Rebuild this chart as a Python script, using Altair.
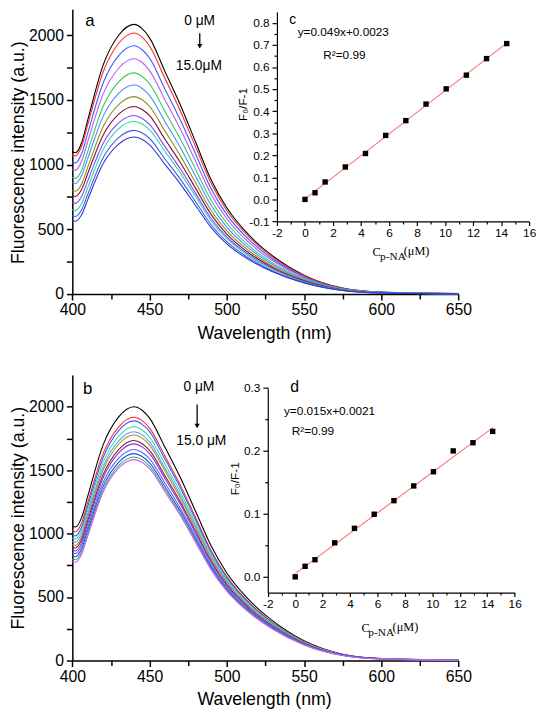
import altair as alt
import pandas as pd

# ---------------- data ----------------
wavelengths = [400, 402, 406, 410, 420, 430, 440, 445, 450, 460, 470, 480, 490, 500, 515, 530, 550, 575, 600, 650]

spectra_a = [
    [1100, 1092, 1169, 1346, 1771, 2000, 2084, 2053, 1980, 1719, 1459, 1169, 879, 667, 448, 292, 146, 46, 15, 4],
    [1076, 1068, 1142, 1311, 1718, 1938, 2018, 1988, 1917, 1665, 1413, 1132, 852, 646, 434, 283, 141, 44, 14, 4],
    [1021, 1014, 1084, 1245, 1633, 1843, 1919, 1890, 1823, 1583, 1343, 1077, 810, 614, 413, 269, 134, 42, 13, 4],
    [965, 958, 1025, 1179, 1547, 1745, 1818, 1791, 1727, 1500, 1273, 1020, 767, 582, 391, 255, 127, 40, 13, 4],
    [901, 894, 957, 1103, 1452, 1640, 1709, 1683, 1624, 1410, 1196, 959, 721, 547, 367, 239, 120, 38, 12, 3],
    [861, 855, 914, 1049, 1375, 1551, 1615, 1591, 1534, 1332, 1131, 906, 682, 517, 347, 226, 113, 36, 11, 3],
    [800, 794, 850, 981, 1295, 1464, 1526, 1503, 1450, 1259, 1068, 856, 644, 488, 328, 214, 107, 34, 11, 3],
    [760, 754, 808, 932, 1230, 1391, 1450, 1428, 1378, 1196, 1015, 813, 612, 464, 312, 203, 102, 32, 10, 3],
    [707, 701, 754, 875, 1166, 1323, 1380, 1359, 1311, 1139, 966, 774, 582, 442, 297, 193, 97, 30, 10, 3],
    [651, 645, 699, 822, 1118, 1278, 1336, 1316, 1269, 1102, 935, 750, 564, 428, 287, 187, 94, 29, 9, 3],
    [605, 599, 651, 770, 1055, 1209, 1265, 1246, 1202, 1044, 886, 710, 534, 405, 272, 177, 89, 28, 9, 3],
    [568, 563, 613, 730, 1009, 1159, 1214, 1196, 1153, 1002, 850, 681, 512, 388, 261, 170, 85, 27, 8, 2],
]
spectra_b = [
    [1060, 1052, 1126, 1295, 1701, 1920, 2000, 1974, 1910, 1680, 1440, 1170, 900, 690, 470, 310, 156, 50, 16, 4],
    [1022, 1015, 1084, 1246, 1632, 1841, 1917, 1892, 1831, 1610, 1380, 1121, 863, 661, 450, 297, 150, 48, 15, 4],
    [990, 982, 1052, 1214, 1602, 1812, 1888, 1863, 1803, 1586, 1359, 1104, 850, 651, 444, 293, 147, 47, 15, 4],
    [965, 958, 1027, 1184, 1563, 1767, 1842, 1818, 1759, 1547, 1326, 1078, 829, 635, 433, 286, 144, 46, 15, 4],
    [940, 933, 1000, 1155, 1528, 1730, 1803, 1780, 1722, 1515, 1298, 1055, 811, 622, 424, 279, 141, 45, 14, 4],
    [915, 908, 976, 1131, 1503, 1704, 1777, 1754, 1697, 1493, 1279, 1040, 800, 613, 418, 275, 139, 44, 14, 4],
    [895, 887, 953, 1104, 1466, 1662, 1733, 1710, 1655, 1456, 1248, 1014, 780, 598, 407, 269, 135, 43, 14, 3],
    [870, 864, 929, 1080, 1441, 1636, 1707, 1685, 1630, 1434, 1229, 999, 768, 589, 401, 265, 133, 43, 14, 3],
    [850, 843, 907, 1053, 1404, 1594, 1663, 1641, 1588, 1397, 1197, 973, 748, 574, 391, 258, 130, 42, 13, 3],
    [825, 818, 881, 1026, 1374, 1562, 1630, 1609, 1557, 1369, 1174, 954, 734, 562, 383, 253, 127, 41, 13, 3],
    [800, 794, 857, 1001, 1348, 1536, 1604, 1583, 1532, 1347, 1155, 938, 722, 553, 377, 249, 125, 40, 13, 3],
    [780, 774, 837, 981, 1328, 1515, 1583, 1562, 1512, 1330, 1140, 926, 712, 546, 372, 245, 123, 40, 13, 3],
]
colors_a = ["#000000", "#ff2a2a", "#3a5cff", "#bb55ff", "#33cc55", "#4d8dff",
            "#8f8f22", "#7a1030", "#8844ff", "#33d6a8", "#4455ee", "#2a3acc"]
colors_b = ["#000000", "#ff2a2a", "#3a5cff", "#3cd6a8", "#5a9cff", "#9a9a22",
            "#8a1a3a", "#8a33dd", "#5566ff", "#3344dd", "#22bb66", "#dd55ff"]

conc = [0, 0.72, 1.44, 2.88, 4.32, 5.76, 7.2, 8.64, 10.08, 11.52, 12.96, 14.4]
ratio_c = [0, 0.030, 0.079, 0.147, 0.208, 0.290, 0.357, 0.432, 0.501, 0.563, 0.638, 0.706]
ratio_d = [0, 0.0167, 0.0272, 0.054, 0.077, 0.0994, 0.121, 0.1444, 0.1669, 0.200, 0.213, 0.231]
fit_c_conc = [0, 14.4]
fit_c_ratio = [0.0023, 0.7079]
fit_d_conc = [0, 14.42]
fit_d_ratio = [0.005, 0.237]

# ---------------- layout ----------------
W, H = 538, 714
SC = {
    "a_x": ([400, 650], [65.3, 457.3]),
    "a_y": ([0, 2200], [285, -4]),
    "b_x": ([400, 650], [65.3, 457.3]),
    "b_y": ([0, 2250], [657, 367.1]),
    "c_x": ([-2, 16], [273, 529]),
    "c_y": ([-0.1, 0.85], [211.3, -1.5]),
    "d_x": ([-2, 16], [263.7, 514.3]),
    "d_y": ([-0.025, 0.3], [588, 380.3]),
}
SANS = "Liberation Sans"
SERIF = "Liberation Serif"
AX = dict(grid=False, domainColor="black", tickColor="black", labelColor="black",
          titleColor="black", labelFont=SANS, titleFont=SANS, titleFontWeight="normal")
MINUS = "replace(datum.label, '\u2212', '-')"


def sc(key):
    dom, rng = SC[key]
    return alt.Scale(domain=dom, range=rng, nice=False, zero=False)


def X(field, key, axis=None):
    return alt.X(f"{field}:Q", scale=sc(key), axis=axis)


def Y(field, key, axis=None):
    return alt.Y(f"{field}:Q", scale=sc(key), axis=axis)


def main_axes(y_off, ytitle_y):
    xa = alt.Axis(orient="bottom", offset=y_off - H, values=[400, 450, 500, 550, 600, 650],
                  tickSize=6, tickWidth=1.5, domainWidth=1.5, labelFontSize=16, labelPadding=2,
                  labelFlush=False, labelOverlap=False, format="d",
                  title="Wavelength (nm)", titleFontSize=18, titleX=260, titleY=31,
                  titleBaseline="top", titleAlign="center", **AX)
    ya = alt.Axis(orient="left", offset=-65.3, values=[0, 500, 1000, 1500, 2000],
                  tickSize=6, tickWidth=1.5, domainWidth=1.5, labelFontSize=16, labelPadding=3,
                  format="d", title="Fluorescence intensity (a.u.)", titleFontSize=18,
                  titleX=-46, titleY=ytitle_y, titleAngle=270, titleBaseline="bottom",
                  titleAlign="center", **AX)
    xm = alt.Axis(orient="bottom", offset=y_off - H, values=[425, 475, 525, 575, 625],
                  labels=False, domain=False, tickSize=5, tickWidth=1.5, title=None, **AX)
    ym = alt.Axis(orient="left", offset=-65.3, values=[250, 750, 1250, 1750],
                  labels=False, domain=False, tickSize=6, tickWidth=1.5, title=None, **AX)
    return xa, ya, xm, ym


def inset_axes(y_axis_px, x_off, yvals, ymin, title_x, title_y):
    xa = alt.Axis(orient="bottom", offset=y_axis_px - H, values=list(range(-2, 17, 2)),
                  tickSize=4, tickWidth=1.2, domainWidth=1.2, labelFontSize=12, labelPadding=2,
                  labelFlush=False, labelOverlap=False, format="d", labelExpr=MINUS,
                  title=None, **AX)
    ya = alt.Axis(orient="left", offset=-x_off, values=yvals, tickSize=5, tickWidth=1.2,
                  domainWidth=1.2, labelFontSize=12, labelPadding=3, format=".1f",
                  labelExpr=MINUS, labelOverlap=False, title="F\u2080/F-1", titleFontSize=12,
                  titleX=title_x, titleY=title_y, titleAngle=270, titleBaseline="bottom",
                  titleAlign="center", **AX)
    xm = alt.Axis(orient="bottom", offset=y_axis_px - H, values=list(range(-1, 16, 2)),
                  labels=False, domain=False, tickSize=2.5, tickWidth=1.2, title=None, **AX)
    ym = alt.Axis(orient="left", offset=-x_off, values=ymin, labels=False, domain=False,
                  tickSize=3, tickWidth=1.2, title=None, **AX)
    return xa, ya, xm, ym


def spectra_df(spectra):
    rows = []
    for i, s in enumerate(spectra):
        for w, v in zip(wavelengths, s):
            rows.append({"wl": w, "val": v, "curve": f"s{i:02d}"})
    return pd.DataFrame(rows)


def spectra_layer(spectra, colors, p, xa, ya):
    df = spectra_df(spectra)
    ids = [f"s{i:02d}" for i in range(len(spectra))]
    return alt.Chart(df).mark_line(strokeWidth=1.1, interpolate="monotone").encode(
        x=X("wl", p + "_x", xa), y=Y("val", p + "_y", ya),
        color=alt.Color("curve:N", scale=alt.Scale(domain=ids, range=colors), legend=None),
    )


def text_layer(texts, xs, ys, p, size, font=SANS, align="center", baseline="middle",
               xa=None, ya=None):
    df = pd.DataFrame({"t": texts, "x": xs, "y": ys})
    return alt.Chart(df).mark_text(align=align, baseline=baseline, fontSize=size, font=font,
                                   color="black").encode(
        x=X("x", p + "_x", xa), y=Y("y", p + "_y", ya), text="t:N")


def arrow_layers(x, y_from, y_head, p):
    df = pd.DataFrame({"x": [x], "y": [y_from], "y2": [y_head]})
    shaft = alt.Chart(df).mark_rule(color="black", strokeWidth=1.3).encode(
        x=X("x", p + "_x"), y=Y("y", p + "_y"), y2="y2:Q")
    head = alt.Chart(df).mark_point(shape="triangle-down", filled=True, size=28, color="black",
                                    opacity=1).encode(x=X("x", p + "_x"), y=Y("y2", p + "_y"))
    return [shaft, head]


def inset_layers(p, ratios, fit_x, fit_y, axes):
    xa, ya, xm, ym = axes
    pts = pd.DataFrame({"c": conc, "r": ratios})
    fit = pd.DataFrame({"c": fit_x, "r": fit_y})
    line = alt.Chart(fit).mark_line(color="#ff6f6f", strokeWidth=1.1).encode(
        x=X("c", p + "_x", xm), y=Y("r", p + "_y", ym))
    points = alt.Chart(pts).mark_square(size=30, color="black", opacity=1).encode(
        x=X("c", p + "_x", xa), y=Y("r", p + "_y", ya))
    return [line, points]


layers = []

# ---- panel a ----
axa = main_axes(285, 141)
layers.append(spectra_layer(spectra_a, colors_a, "a", axa[0], axa[1]))
layers.append(text_layer(["a"], [411.3], [2108], "a", 17, xa=axa[2], ya=axa[3]))
layers.append(text_layer(["0 \u03bcM", "15.0\u03bcM"], [482.4, 481.9], [2108, 1761], "a", 14))
layers += arrow_layers(482.5, 2015, 1915, "a")

# ---- inset c ----
axc = inset_axes(211.3, 273, [-0.1, 0.0, 0.1, 0.2, 0.3, 0.4, 0.5, 0.6, 0.7, 0.8],
                 [-0.05, 0.05, 0.15, 0.25, 0.35, 0.45, 0.55, 0.65, 0.75], -28, 92)
layers += inset_layers("c", ratio_c, fit_c_conc, fit_c_ratio, axc)
layers.append(text_layer(["c"], [-0.875], [0.8125], "c", 14))
layers.append(text_layer(["y=0.049x+0.0023", "R\u00b2=0.99"], [-0.523, 1.305], [0.759, 0.656],
                         "c", 12, align="left"))
layers.append(text_layer(["C", "(\u03bcM)"], [4.82, 7.05], [-0.237, -0.232], "c", 12.5,
                         font=SERIF, align="left"))
layers.append(text_layer(["p-NA"], [5.36], [-0.263], "c", 11.5, font=SERIF, align="left"))

# ---- panel b ----
axb = main_axes(657, 512)
layers.append(spectra_layer(spectra_b, colors_b, "b", axb[0], axb[1]))
layers.append(text_layer(["b"], [410], [2142], "b", 17, xa=axb[2], ya=axb[3]))
layers.append(text_layer(["0 \u03bcM", "15.0 \u03bcM"], [481.9, 483.5], [2158, 1727], "b", 14))
layers += arrow_layers(480.8, 2018, 1847, "b")

# ---- inset d ----
axd = inset_axes(588, 263.7, [0.0, 0.1, 0.2, 0.3], [0.05, 0.15, 0.25], -27, 472)
layers += inset_layers("d", ratio_d, fit_d_conc, fit_d_ratio, axd)
layers.append(text_layer(["d"], [-0.04], [0.302], "d", 16))
layers.append(text_layer(["y=0.015x+0.0021", "R\u00b2=0.99"], [-0.826, -0.25], [0.263, 0.231],
                         "d", 12, align="left"))
layers.append(text_layer(["C", "(\u03bcM)"], [4.83, 7.1], [-0.081, -0.080], "d", 12.5,
                         font=SERIF, align="left"))
layers.append(text_layer(["p-NA"], [5.33], [-0.089], "d", 11.5, font=SERIF, align="left"))

chart = alt.layer(*layers).resolve_scale(
    x="independent", y="independent", color="independent"
).resolve_axis(x="independent", y="independent").properties(
    width=W, height=H, autosize=alt.AutoSizeParams(type="none"), padding=0,
    background="white",
).configure_view(stroke=None)

chart.save("out.html", embed_options={"renderer": "svg", "actions": False})
